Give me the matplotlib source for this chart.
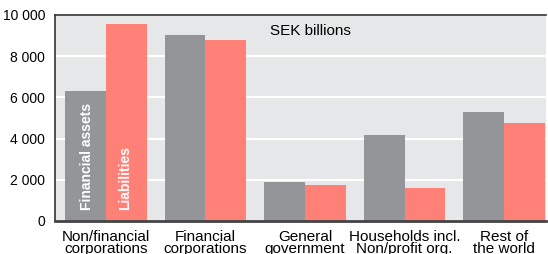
import numpy as np
import matplotlib
matplotlib.use('Agg')
import matplotlib.pyplot as plt

plt.rcParams['font.family'] = ['Liberation Sans', 'DejaVu Sans']

sectors = ["Non/financial\ncorporations", "Financial\ncorporations", "General\ngovernment",
           "Households incl.\nNon/profit org.", "Rest of\nthe world"]
assets = [6300, 9030, 1900, 4170, 5300]
liabilities = [9560, 8790, 1750, 1620, 4780]
yticks = [0, 2000, 4000, 6000, 8000, 10000]
ytick_labels = ["0", "2 000", "4 000", "6 000", "8 000", "10 000"]

grey = '#939598'
red = '#ff8077'
bg = '#e6e7e8'

fig = plt.figure(figsize=(5.48, 2.54), dpi=100)
ax = fig.add_axes([55/548, 33/254, 491/548, 206/254])
ax.set_facecolor(bg)

x = np.arange(len(sectors))
w = 0.41
ax.bar(x - w/2, assets, width=w, color=grey, zorder=3)
ax.bar(x + w/2, liabilities, width=w, color=red, zorder=3)

ax.set_ylim(0, 10000)
ax.set_xlim(-0.51, 4.42)
ax.set_yticks(yticks)
ax.set_yticklabels(ytick_labels, fontsize=10)
ax.set_xticks(x)
ax.set_xticklabels(sectors, fontsize=11, linespacing=0.82)
ax.tick_params(axis='both', length=0)
ax.tick_params(axis='y', pad=7)
ax.tick_params(axis='x', pad=6.5)
ax.yaxis.grid(True, color='white', linewidth=1.5, zorder=1)
ax.set_axisbelow(True)

for s in ['left', 'top']:
    ax.spines[s].set_color('#333333')
    ax.spines[s].set_linewidth(1.2)
ax.spines['right'].set_visible(False)
ax.spines['bottom'].set_color('#444444')
ax.spines['bottom'].set_linewidth(2)
ax.spines['bottom'].set_zorder(5)

ax.text(0.52, 0.955, "SEK billions", transform=ax.transAxes, ha='center', va='top', fontsize=11)

ax.text(x[0] - w/2 + 0.015, 520, "Financial assets", rotation=90, ha='center', va='bottom',
        color='white', fontweight='bold', fontsize=10, zorder=4)
ax.text(x[0] + w/2 - 0.015, 520, "Liabilities", rotation=90, ha='center', va='bottom',
        color='white', fontweight='bold', fontsize=10, zorder=4)

fig.savefig('out.png', dpi=100)
